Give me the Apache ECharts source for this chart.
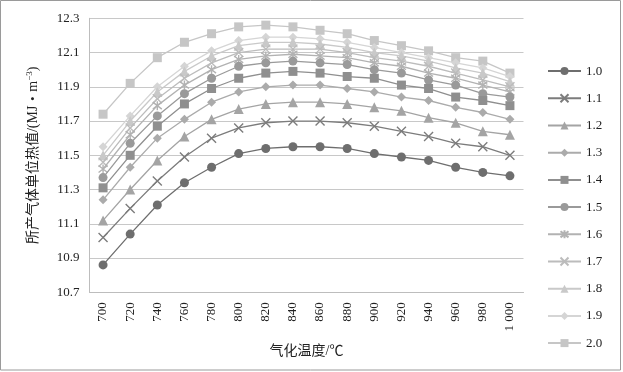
<!DOCTYPE html>
<html><head><meta charset="utf-8">
<script src="https://cdn.jsdelivr.net/npm/echarts@6/dist/echarts.min.js"></script>
<style>html,body{margin:0;padding:0;background:#fff}#c{width:623px;height:372px}</style>
</head><body><div id="c"></div>
<script>
const categories = ['700','720','740','760','780','800','820','840','860','880','900','920','940','960','980','1 000'];
const yTicks = [10.7, 10.9, 11.1, 11.3, 11.5, 11.7, 11.9, 12.1, 12.3];
const seriesNames = ['1.0','1.1','1.2','1.3','1.4','1.5','1.6','1.7','1.8','1.9','2.0'];
const s10 = [10.86,11.04,11.21,11.34,11.43,11.51,11.54,11.55,11.55,11.54,11.51,11.49,11.47,11.43,11.40,11.38];
const s11 = [11.02,11.19,11.35,11.49,11.60,11.66,11.69,11.70,11.70,11.69,11.67,11.64,11.61,11.57,11.55,11.50];
const s12 = [11.12,11.30,11.47,11.61,11.71,11.77,11.80,11.81,11.81,11.80,11.78,11.76,11.72,11.69,11.64,11.62];
const s13 = [11.24,11.43,11.60,11.71,11.81,11.87,11.90,11.91,11.91,11.89,11.87,11.84,11.82,11.78,11.75,11.71];
const s14 = [11.31,11.50,11.67,11.80,11.89,11.95,11.98,11.99,11.98,11.96,11.95,11.91,11.89,11.84,11.82,11.79];
const s15 = [11.37,11.57,11.73,11.86,11.95,12.02,12.04,12.05,12.04,12.03,12.00,11.98,11.94,11.91,11.86,11.84];
const s16 = [11.42,11.62,11.79,11.91,12.00,12.06,12.08,12.09,12.08,12.07,12.04,12.02,11.98,11.95,11.91,11.87];
const s17 = [11.46,11.66,11.83,11.95,12.04,12.10,12.12,12.12,12.12,12.10,12.07,12.05,12.02,11.98,11.94,11.90];
const s18 = [11.50,11.70,11.87,11.99,12.08,12.14,12.16,12.16,12.15,12.13,12.10,12.08,12.05,12.01,11.98,11.93];
const s19 = [11.55,11.73,11.90,12.02,12.11,12.17,12.19,12.19,12.18,12.16,12.13,12.10,12.07,12.04,12.01,11.96];
const s20 = [11.74,11.92,12.07,12.16,12.21,12.25,12.26,12.25,12.23,12.21,12.17,12.14,12.11,12.07,12.05,11.98];
const allData = [s10,s11,s12,s13,s14,s15,s16,s17,s18,s19,s20];

const colors = ['#6e6e6e','#7c7c7c','#a4a4a4','#ababab','#8f8f8f','#9a9a9a','#b2b2b2','#bcbcbc','#c9c9c9','#d5d5d5','#c6c6c6'];
const X = 'path://M0,0L10,10M10,0L0,10';
const STAR = 'path://M0,0L10,10M10,0L0,10M5,-1.5L5,11.5';
const symbols = ['circle', X, 'triangle', 'diamond', 'rect', 'circle', STAR, X, 'triangle', 'diamond', 'rect'];
const sizes = [9, 9, 10, 9, 9, 9, 9, 9, 10, 9, 9];
const stroked = [false, true, false, false, false, false, true, true, false, false, false];

const font = '"Liberation Serif", "Times New Roman", "Noto Sans CJK SC", serif';

const series = seriesNames.map((n, i) => ({
  name: n,
  type: 'line',
  data: allData[i],
  symbol: symbols[i],
  symbolSize: sizes[i],
  showSymbol: true,
  animation: false,
  lineStyle: { color: colors[i], width: 1.3 },
  itemStyle: stroked[i]
    ? { color: 'rgba(0,0,0,0)', borderColor: colors[i], borderWidth: 1.4 }
    : { color: colors[i], borderWidth: 0 },
  emphasis: { disabled: true },
  z: 20 - i
}));

const chart = echarts.init(document.getElementById('c'), null, { renderer: 'canvas' });
chart.setOption({
  animation: false,
  backgroundColor: '#fff',
  textStyle: { fontFamily: font, color: '#222' },
  grid: { left: 89.5, right: 99.5, top: 18.3, bottom: 79.7, containLabel: false },
  legend: {
    orient: 'vertical',
    left: 547,
    top: 64.6,
    padding: 0,
    itemWidth: 33,
    itemHeight: 10,
    itemGap: 14.2,
    data: seriesNames,
    textStyle: { fontFamily: font, fontSize: 13, color: '#222' },
    selectedMode: false
  },
  xAxis: {
    type: 'category',
    data: categories,
    boundaryGap: true,
    name: '气化温度/℃',
    nameLocation: 'middle',
    nameGap: 52,
    nameTextStyle: { fontFamily: font, fontSize: 14, color: '#222' },
    axisLine: { show: true, lineStyle: { color: '#bdbdbd', width: 1 } },
    axisTick: { show: false },
    axisLabel: { rotate: 90, margin: 10, fontSize: 13, color: '#222', fontFamily: font, interval: 0 },
    splitLine: { show: false }
  },
  yAxis: {
    type: 'value',
    min: yTicks[0],
    max: yTicks[yTicks.length - 1],
    interval: 0.2,
    name: '所产气体单位热值/(MJ・m{sup|−3})',
    nameLocation: 'middle',
    nameGap: 49,
    nameTextStyle: {
      fontFamily: font, fontSize: 14, color: '#222',
      rich: { sup: { fontSize: 9, verticalAlign: 'top', fontFamily: font, color: '#222', padding: [0, 0, 6, 0] } }
    },
    axisLine: { show: true, lineStyle: { color: '#bdbdbd', width: 1 } },
    axisTick: { show: false },
    axisLabel: { margin: 10, fontSize: 13, color: '#222', fontFamily: font, formatter: v => v.toFixed(1) },
    splitLine: { show: true, lineStyle: { color: '#c8c8c8', width: 1 } }
  },
  graphic: [{
    type: 'rect',
    shape: { x: 0.5, y: 0.5, width: 620, height: 369.5 },
    style: { fill: 'none', stroke: '#9a9a9a', lineWidth: 1 },
    silent: true, z: 100
  }],
  series: series
});
</script>
</body></html>
